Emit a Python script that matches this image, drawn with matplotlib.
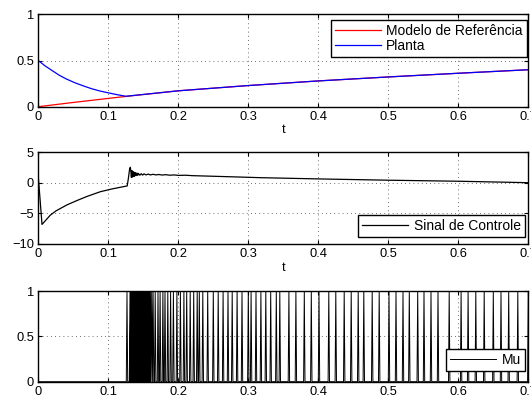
import matplotlib
matplotlib.use("Agg")
import matplotlib.pyplot as plt
import numpy as np

plt.rcParams['font.family'] = ['Liberation Sans', 'DejaVu Sans']
plt.rcParams['font.size'] = 9.3

# ---- Panel 1: reference model and plant ----
ref_t = [0.0, 0.05, 0.1, 0.125, 0.2, 0.3, 0.4, 0.5, 0.6, 0.7]
ref_y = [0.0, 0.046, 0.09, 0.111, 0.172, 0.229, 0.279, 0.322, 0.362, 0.40]
plant_t = [0.0, 0.01, 0.021, 0.03, 0.04, 0.052, 0.064, 0.076, 0.088, 0.1, 0.112, 0.125,
           0.2, 0.3, 0.4, 0.5, 0.6, 0.7]
plant_y = [0.5, 0.44, 0.385, 0.34, 0.30, 0.26, 0.226, 0.195, 0.170, 0.150, 0.131, 0.113,
           0.172, 0.229, 0.279, 0.322, 0.362, 0.40]

# ---- Panel 2: control signal ----
ctrl_t = [0.0, 0.0053, 0.01, 0.017, 0.025, 0.033, 0.041, 0.055, 0.07, 0.0886, 0.105, 0.127,
          0.1285, 0.1305, 0.1315, 0.1325, 0.133, 0.1335, 0.134, 0.1345, 0.135, 0.1355, 0.136,
          0.1365, 0.137, 0.1375, 0.138, 0.139, 0.140, 0.141, 0.142, 0.143, 0.145, 0.147,
          0.149, 0.151, 0.154, 0.157, 0.160, 0.164, 0.168, 0.172, 0.177, 0.182, 0.188,
          0.194, 0.2, 0.21, 0.22, 0.274, 0.317, 0.403, 0.503, 0.603, 0.7]
ctrl_v = [1.0, -6.8, -6.2, -5.3, -4.6, -4.1, -3.6, -2.9, -2.2, -1.45, -1.0, -0.5,
          0.6, 2.3, 2.55, 1.6, 0.9, 2.0, 0.95, 1.9, 1.0, 1.8, 1.05,
          1.75, 1.1, 1.7, 1.15, 1.65, 1.2, 1.6, 1.22, 1.55, 1.25, 1.5,
          1.27, 1.47, 1.3, 1.44, 1.3, 1.4, 1.3, 1.37, 1.28, 1.34, 1.25,
          1.3, 1.22, 1.25, 1.18, 1.0, 0.85, 0.64, 0.43, 0.26, 0.03]

# ---- Panel 3: Mu switching pulses (times where Mu goes to 1) ----
mu_pulse_t = [0.1257,
              0.130, 0.131, 0.132, 0.133, 0.134, 0.135, 0.136, 0.137, 0.138, 0.139,
              0.140, 0.141, 0.142, 0.143, 0.144, 0.145, 0.146, 0.147, 0.148, 0.149,
              0.150, 0.151, 0.152, 0.153, 0.154, 0.155, 0.156, 0.157, 0.158, 0.159,
              0.161, 0.163, 0.166, 0.170, 0.173, 0.177, 0.180, 0.184, 0.188, 0.192,
              0.197, 0.202, 0.207, 0.211, 0.216, 0.221, 0.226, 0.229, 0.234, 0.241,
              0.249, 0.256, 0.263, 0.270, 0.276, 0.283, 0.290, 0.299, 0.303, 0.310,
              0.317, 0.324, 0.331, 0.339, 0.344, 0.357, 0.367, 0.379, 0.389, 0.400,
              0.414, 0.424, 0.436, 0.446, 0.456, 0.464, 0.476, 0.486, 0.500, 0.510,
              0.520, 0.529, 0.541, 0.550, 0.560, 0.570, 0.586, 0.603, 0.613, 0.624,
              0.636, 0.649, 0.660, 0.671, 0.684, 0.699]
pulse_w = 0.002

mu_t = [0.0]
mu_v = [0.0]
for p in mu_pulse_t:
    mu_t += [p, p + pulse_w * 0.5, p + pulse_w]
    mu_v += [0.0, 1.0, 0.0]
mu_t.append(0.7)
mu_v.append(0.0)

fig = plt.figure(figsize=(5.31, 4.01), dpi=100)
W, H = 531.0, 401.0
left = 38.3 / W
width = 490.0 / W

def mk_ax(top_px, bot_px):
    return fig.add_axes([left, 1 - bot_px / H, width, (bot_px - top_px) / H])

ax1 = mk_ax(14.3, 106.7)
ax2 = mk_ax(152.3, 244.0)
ax3 = mk_ax(291.0, 381.7)

def style(ax):
    ax.set_xlim(0, 0.7)
    ax.set_xticks([0, 0.1, 0.2, 0.3, 0.4, 0.5, 0.6, 0.7])
    ax.set_xticklabels(['0', '0.1', '0.2', '0.3', '0.4', '0.5', '0.6', '0.7'])
    ax.grid(True, linestyle=(0, (1, 4)), color='0.25', linewidth=0.6)
    ax.tick_params(direction='in', top=True, right=True, length=3, width=0.8, pad=3)
    for s in ax.spines.values():
        s.set_linewidth(1.0)
        s.set_color('black')

LEG = dict(borderaxespad=0, fancybox=False, edgecolor='black', framealpha=1,
           handlelength=3.3, borderpad=0.3, handletextpad=0.4, fontsize=10)

ax1.plot(ref_t, ref_y, color='red', lw=0.9, label='Modelo de Referência')
ax1.plot(plant_t, plant_y, color='blue', lw=0.9, label='Planta')
ax1.set_ylim(0, 1)
ax1.set_yticks([0, 0.5, 1])
ax1.set_yticklabels(['0', '0.5', '1'])
style(ax1)
ax1.set_xlabel('t', labelpad=1)
leg1 = ax1.legend(loc='upper right', bbox_to_anchor=(0.997, 0.938), labelspacing=0.05, **LEG)
leg1.get_frame().set_linewidth(1.0)

ax2.plot(ctrl_t, ctrl_v, color='black', lw=0.9, label='Sinal de Controle')
ax2.set_ylim(-10, 5)
ax2.set_yticks([-10, -5, 0, 5])
ax2.set_yticklabels(['\u221210', '\u22125', '0', '5'])
style(ax2)
ax2.set_xlabel('t', labelpad=1)
leg2 = ax2.legend(loc='lower right', bbox_to_anchor=(0.993, 0.076), **LEG)
leg2.get_frame().set_linewidth(1.0)

ax3.plot(mu_t, mu_v, color='black', lw=0.7, label='Mu')
ax3.set_ylim(0, 1)
ax3.set_yticks([0, 0.5, 1])
ax3.set_yticklabels(['0', '0.5', '1'])
style(ax3)
leg3 = ax3.legend(loc='lower right', bbox_to_anchor=(0.993, 0.118), **LEG)
leg3.get_frame().set_linewidth(1.0)

fig.savefig('out.png', dpi=100)
